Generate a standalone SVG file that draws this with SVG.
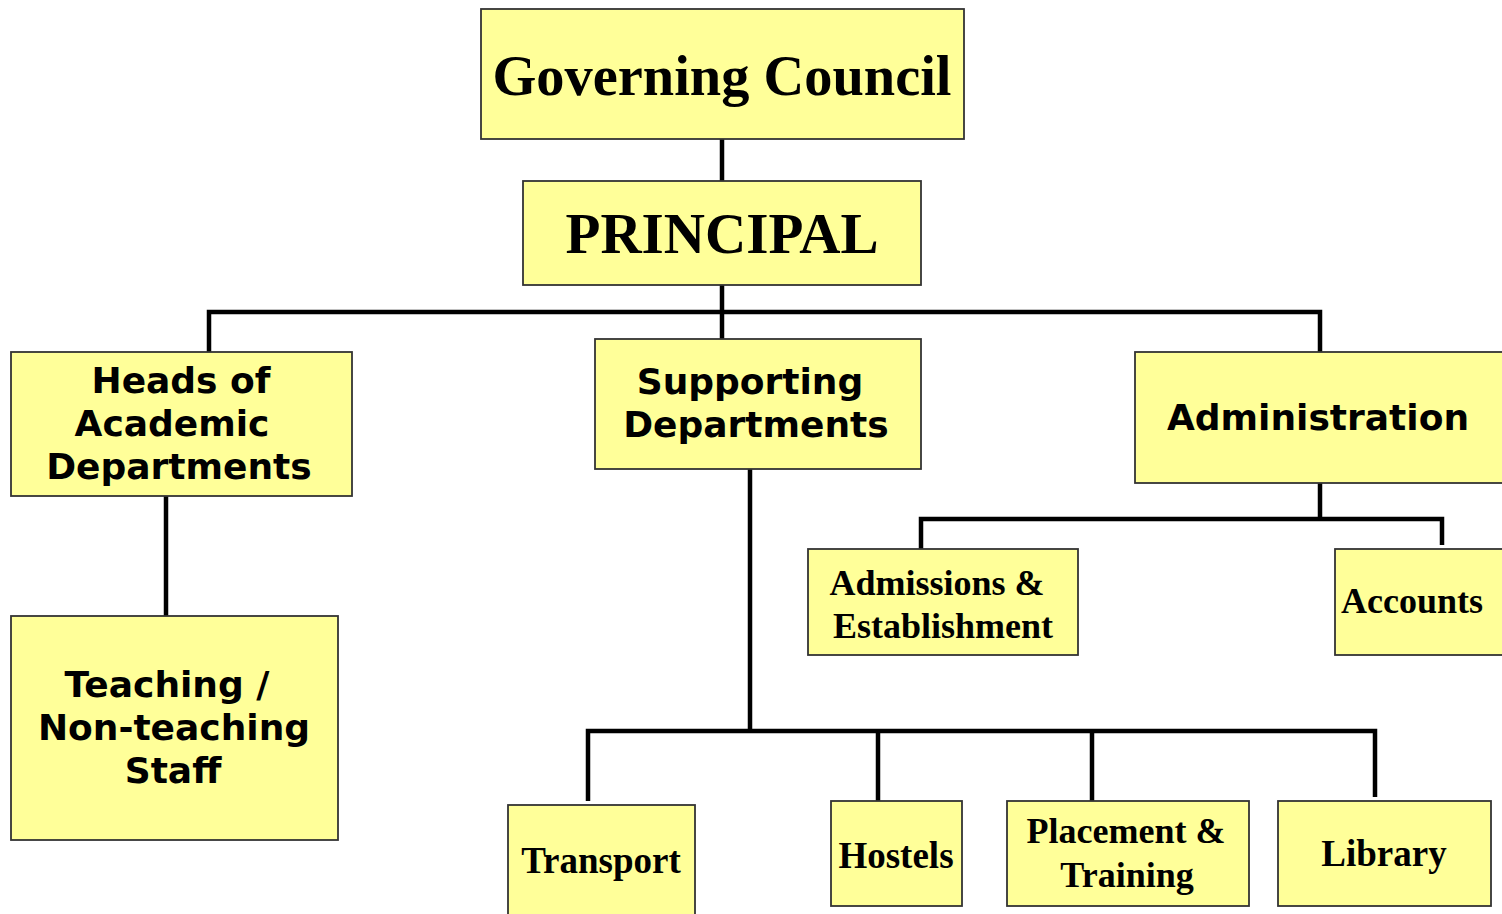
<svg xmlns="http://www.w3.org/2000/svg" width="1502" height="914" viewBox="0 0 1502 914">
<style>
.box{fill:#FFFF99;stroke:#333;stroke-width:1.8}
.ser{font-family:"Liberation Serif","Times New Roman",serif;font-weight:bold;fill:#000;text-anchor:middle}
.san{font-family:"DejaVu Sans",sans-serif;font-weight:bold;fill:#000;text-anchor:middle;font-size:36px}
.c{stroke:#000;stroke-width:4.5;fill:none;stroke-linecap:butt;stroke-linejoin:miter}
</style>
<rect width="1502" height="914" fill="#fff"/>
<g id="connectors">
<path class="c" d="M722 139V181"/>
<path class="c" d="M722 285V339"/>
<path class="c" d="M209 352V312H1320V352"/>
<path class="c" d="M166 496V616"/>
<path class="c" d="M750 469V731"/>
<path class="c" d="M588 801V731H1375V797"/>
<path class="c" d="M878 731V801"/>
<path class="c" d="M1092 731V801"/>
<path class="c" d="M1320 483V519"/>
<path class="c" d="M921 549V519H1442V545"/>
</g>
<g id="governing-council">
<rect class="box" x="481" y="9" width="483" height="130"/>
<text class="ser" x="722" y="95" font-size="57" textLength="459" lengthAdjust="spacingAndGlyphs">Governing Council</text>
</g>
<g id="principal">
<rect class="box" x="523" y="181" width="398" height="104"/>
<text class="ser" x="722" y="253" font-size="56" textLength="313" lengthAdjust="spacingAndGlyphs">PRINCIPAL</text>
</g>
<g id="heads">
<rect class="box" x="11" y="352" width="341" height="144"/>
<text class="san" x="181" y="393">Heads of</text>
<text class="san" x="172" y="436">Academic</text>
<text class="san" x="179" y="479">Departments</text>
</g>
<g id="supporting">
<rect class="box" x="595" y="339" width="326" height="130"/>
<text class="san" x="750" y="394">Supporting</text>
<text class="san" x="756" y="437">Departments</text>
</g>
<g id="administration">
<rect class="box" x="1135" y="352" width="370" height="131"/>
<text class="san" x="1318" y="430">Administration</text>
</g>
<g id="teaching">
<rect class="box" x="11" y="616" width="327" height="224"/>
<text class="san" x="167" y="697">Teaching /</text>
<text class="san" x="174" y="740">Non-teaching</text>
<text class="san" x="173" y="783">Staff</text>
</g>
<g id="admissions">
<rect class="box" x="808" y="549" width="270" height="106"/>
<text class="ser" x="937" y="595" font-size="36">Admissions &amp;</text>
<text class="ser" x="943" y="638" font-size="36">Establishment</text>
</g>
<g id="accounts">
<rect class="box" x="1335" y="549" width="170" height="106"/>
<text class="ser" x="1412" y="613" font-size="36">Accounts</text>
</g>
<g id="transport">
<rect class="box" x="508" y="805" width="187" height="115"/>
<text class="ser" x="601" y="873" font-size="37">Transport</text>
</g>
<g id="hostels">
<rect class="box" x="831" y="801" width="131" height="105"/>
<text class="ser" x="896" y="868" font-size="37">Hostels</text>
</g>
<g id="placement">
<rect class="box" x="1007" y="801" width="242" height="105"/>
<text class="ser" x="1126" y="843" font-size="36">Placement &amp;</text>
<text class="ser" x="1127" y="887" font-size="36">Training</text>
</g>
<g id="library">
<rect class="box" x="1278" y="801" width="213" height="105"/>
<text class="ser" x="1384" y="866" font-size="37">Library</text>
</g>
</svg>
